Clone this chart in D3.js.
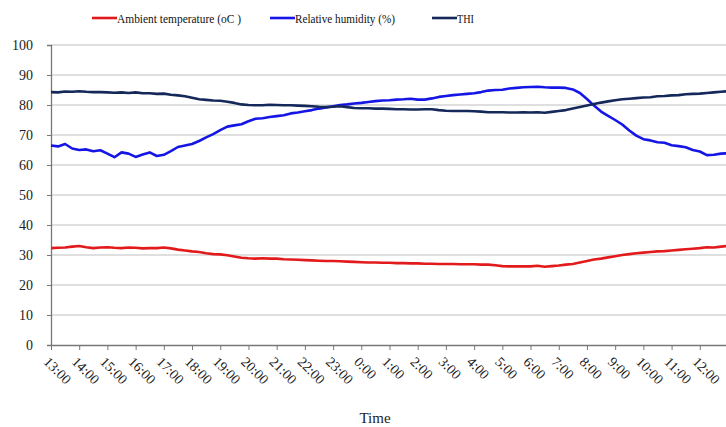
<!DOCTYPE html>
<html>
<head>
<meta charset="utf-8">
<script src="https://cdn.jsdelivr.net/npm/d3@7"></script>
<style>
  body { margin: 0; background: #fff; }
  svg text { font-family: "Liberation Serif", "Times New Roman", "DejaVu Serif", serif; }
</style>
</head>
<body>
<div id="chart-area"></div>
<script>
// tick labels on the time axis (one per hour, starting 13:00)
var hourLabels = ["13:00", "14:00", "15:00", "16:00", "17:00", "18:00", "19:00", "20:00",
    "21:00", "22:00", "23:00", "0:00", "1:00", "2:00", "3:00", "4:00", "5:00", "6:00",
    "7:00", "8:00", "9:00", "10:00", "11:00", "12:00"];
var yTicks = [0, 10, 20, 30, 40, 50, 60, 70, 80, 90, 100];

// readings every 15 minutes from 13:00 to 13:00 the next day
var stepHours = 0.25;

var temperature = [
    32.3, 32.4, 32.5, 32.8, 33.0, 32.6, 32.3, 32.5, 32.6, 32.4, 32.3, 32.5, 32.4, 32.2, 32.3, 32.3,
    32.5, 32.2, 31.8, 31.5, 31.2, 31.0, 30.6, 30.3, 30.2, 29.9, 29.5, 29.1, 28.9, 28.8, 28.9, 28.8,
    28.8, 28.6, 28.5, 28.4, 28.3, 28.2, 28.1, 28.0, 28.0, 27.9, 27.8, 27.7, 27.6, 27.5, 27.5, 27.4,
    27.4, 27.3, 27.3, 27.2, 27.2, 27.1, 27.1, 27.0, 27.0, 27.0, 26.9, 26.9, 26.9, 26.8, 26.8, 26.6,
    26.3, 26.2, 26.2, 26.2, 26.2, 26.4, 26.1, 26.3, 26.5, 26.8, 27.0, 27.5, 28.0, 28.5, 28.8, 29.2,
    29.6, 30.0, 30.3, 30.6, 30.8, 31.0, 31.2, 31.3, 31.5, 31.7, 31.9, 32.1, 32.3, 32.6, 32.5, 32.8,
    33.0
];

var humidity = [
    66.5, 66.2, 67.0, 65.5, 65.0, 65.2, 64.6, 64.9, 63.8, 62.6, 64.2, 63.8, 62.7, 63.5, 64.2, 63.0,
    63.4, 64.6, 66.0, 66.5, 67.0, 68.0, 69.2, 70.3, 71.6, 72.8, 73.2, 73.6, 74.6, 75.4, 75.6, 76.0,
    76.3, 76.6, 77.2, 77.5, 77.9, 78.3, 78.8, 79.2, 79.6, 80.0, 80.2, 80.5, 80.7, 81.0, 81.3, 81.5,
    81.6, 81.8, 81.9, 82.1, 81.8, 81.8, 82.2, 82.7, 83.0, 83.3, 83.5, 83.7, 83.9, 84.3, 84.8, 85.0,
    85.1, 85.5, 85.7, 85.9, 86.0, 86.1, 85.9, 85.8, 85.8, 85.7, 85.2, 84.0, 82.0, 79.8, 77.8, 76.4,
    75.0, 73.5, 71.5, 69.8, 68.6, 68.2, 67.6, 67.4, 66.6, 66.3, 65.9, 65.0, 64.5, 63.3, 63.4, 63.8,
    63.9
];

var thi = [
    84.3, 84.2, 84.5, 84.4, 84.6, 84.4, 84.3, 84.3, 84.2, 84.1, 84.2, 84.0, 84.2, 83.9, 83.9, 83.7,
    83.8, 83.4, 83.2, 82.9, 82.4, 81.9, 81.7, 81.5, 81.4, 81.1, 80.7, 80.2, 80.0, 79.9, 79.9, 80.1,
    80.0, 79.9, 79.9, 79.8, 79.7, 79.6, 79.4, 79.3, 79.4, 79.6, 79.3, 79.0, 78.9, 78.9, 78.8, 78.8,
    78.7, 78.6, 78.6, 78.5, 78.5, 78.6, 78.6, 78.3, 78.1, 78.0, 78.0, 78.0, 77.9, 77.8, 77.6, 77.6,
    77.6, 77.5, 77.5, 77.6, 77.5, 77.6, 77.4, 77.7, 78.0, 78.3, 78.8, 79.3, 79.8, 80.3, 80.8, 81.2,
    81.6, 81.9, 82.1, 82.3, 82.5, 82.6, 82.9, 83.0, 83.2, 83.3, 83.6, 83.7, 83.8, 84.0, 84.2, 84.4,
    84.6
];

var seriesNames = ["Ambient temperature (oC )", "Relative humidity (%)", "THI"];
var seriesColors = ["#e31a1c", "#1515e6", "#14285a"];

var width = 726, height = 427;
var margin = { left: 51, top: 45, right: 0, bottom: 82 };

var svg = d3.select("#chart-area").append("svg")
    .attr("width", width)
    .attr("height", height);

var x = d3.scaleLinear().domain([0, 24]).range([margin.left, 728]);
var y = d3.scaleLinear().domain([0, 100]).range([height - margin.bottom, margin.top]);

// gridlines
svg.append("g")
    .selectAll("line")
    .data(yTicks.slice(1))
    .enter().append("line")
    .attr("x1", margin.left)
    .attr("x2", width)
    .attr("y1", d => y(d))
    .attr("y2", d => y(d))
    .attr("stroke", "#d4d4d4")
    .attr("stroke-width", 1.5);

// y axis
var yAxis = svg.append("g")
    .attr("transform", "translate(" + margin.left + ",0)")
    .call(d3.axisLeft(y).tickValues(yTicks).tickSize(4).tickPadding(14));
yAxis.attr("font-family", null);
yAxis.select(".domain").attr("stroke", "#777").attr("stroke-width", 1.3);
yAxis.selectAll(".tick line").attr("stroke", "#777");
yAxis.selectAll("text")
    .attr("font-size", 14)
    .attr("fill", "#222");

// x axis
var xAxis = svg.append("g")
    .attr("transform", "translate(0," + y(0) + ")")
    .call(d3.axisBottom(x)
        .tickValues(d3.range(hourLabels.length))
        .tickFormat(i => hourLabels[i])
        .tickSize(5)
        .tickSizeOuter(0));
xAxis.attr("font-family", null);
xAxis.select(".domain").attr("stroke", "#777").attr("stroke-width", 1.3);
xAxis.selectAll(".tick line").attr("stroke", "#777");
xAxis.selectAll("text")
    .attr("font-size", 14)
    .attr("fill", "#222")
    .attr("text-anchor", "start")
    .attr("dy", "0")
    .attr("transform", "translate(-3,12) rotate(45)");

// lines
var line = d3.line()
    .x((d, i) => x(i * stepHours))
    .y(d => y(d));

[temperature, humidity, thi].forEach(function(values, k) {
    svg.append("path")
        .datum(values)
        .attr("d", line)
        .attr("fill", "none")
        .attr("stroke", seriesColors[k])
        .attr("stroke-width", 2.6)
        .attr("stroke-linejoin", "round");
});

// legend (text squeezed like the original)
var legendX = [92, 270, 432];
var legendTextLen = [124, 100, 17];
seriesNames.forEach(function(name, k) {
    var g = svg.append("g").attr("transform", "translate(" + legendX[k] + ",18)");
    g.append("line")
        .attr("x1", 0).attr("x2", 25)
        .attr("stroke", seriesColors[k])
        .attr("stroke-width", 2.6);
    g.append("text")
        .attr("x", 25)
        .attr("dy", "0.35em")
        .attr("font-size", 13)
        .attr("fill", "#111")
        .attr("textLength", legendTextLen[k])
        .attr("lengthAdjust", "spacingAndGlyphs")
        .text(name);
});

// axis title
svg.append("text")
    .attr("x", 375)
    .attr("y", 423)
    .attr("text-anchor", "middle")
    .attr("font-size", 15)
    .attr("fill", "#222")
    .text("Time");
</script>
</body>
</html>
